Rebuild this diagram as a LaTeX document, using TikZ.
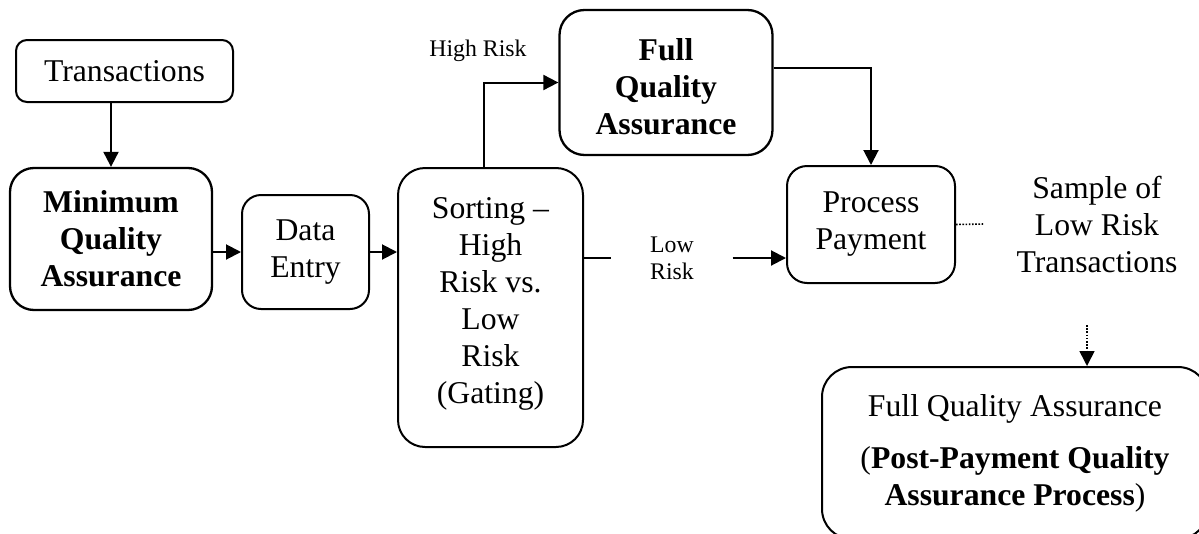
\documentclass[tikz,border=0pt]{standalone}
\usepackage{fontspec}
\setmainfont{Liberation Serif}
\usetikzlibrary{arrows.meta,calc}
\begin{document}
\begin{tikzpicture}[x=1pt,y=-1pt,
  box/.style={draw,line width=2pt,align=center,inner sep=0pt,font=\fontsize{31.7}{37}\selectfont},
  conn/.style={line width=2pt},
  tip/.style={-{Triangle[length=15pt,width=15pt]}},
  arr/.style={line width=2pt,tip},
  dots/.style={line width=1.6pt,dash pattern=on 1.6pt off 1.6pt},
  lbl/.style={align=center,inner sep=0pt,font=\fontsize{23.8}{27}\selectfont},
  big/.style={align=center,inner sep=0pt,font=\fontsize{31.7}{37}\selectfont}]
\useasboundingbox (0,0) rectangle (1199,533);
\clip (0,0) rectangle (1199,533);

\node[box,rounded corners=11pt,minimum width=217pt,minimum height=62pt] (T) at (124.5,71) {Transactions};
\node[box,line width=2.3pt,rounded corners=24pt,minimum width=202pt,minimum height=142pt] (MQA) at (111,239) {\textbf{Minimum}\\\textbf{Quality}\\\textbf{Assurance}};
\node[box,rounded corners=19pt,minimum width=127pt,minimum height=114pt] (DE) at (305.5,252) {Data\\Entry};
\node[box,rounded corners=27pt,minimum width=185pt,minimum height=279pt] (S) at (490.5,307.5) {};
\node[big] (St) at ([yshift=4pt]S.center) {Sorting --\\High\\Risk vs.\\Low\\Risk\\(Gating)};
\node[box,line width=2.3pt,rounded corners=25pt,minimum width=213pt,minimum height=145pt] (FQA) at (666,82.5) {};
\node[big,font=\fontsize{31.7}{37}\selectfont\bfseries] (FQAt) at ([yshift=-4pt]FQA.center) {Full\\Quality\\Assurance};
\node[box,rounded corners=20pt,minimum width=168pt,minimum height=117pt] (PP) at (871,224.5) {Process\\Payment};
\node[box,rounded corners=30pt,minimum width=386pt,minimum height=172pt] (POST) at (1015,453) {Full Quality Assurance\\[15pt](\textbf{Post-Payment Quality}\\\textbf{Assurance Process})};

\node[big] (SL) at (1097,224) {Sample of\\Low Risk\\Transactions};
\node[lbl] (HR) at (478,51) {High Risk};
\node[lbl,minimum width=121pt] (LR) at (672,258) {Low\\Risk};
\coordinate (ds) at (1087,325);

\draw[arr] (MQA.north |- T.south) -- (MQA.north);
\draw[arr] (DE.west -| MQA.east) -- (DE.west);
\draw[arr] (DE.east) -- (DE.east -| S.west);
\draw[arr] ([xshift=-7pt]S.north) |- (FQA.west);
\draw[arr] ([yshift=15pt]FQA.east) -| (PP.north);
\draw[conn] (LR.west -| S.east) -- (LR.west);
\draw[arr] (LR.east) -- (LR.east -| PP.west);
\draw[dots] (PP.east) -- ([xshift=-32pt]SL.west);
\draw[dots,tip] (ds) -- (ds |- POST.north);
\end{tikzpicture}
\end{document}
